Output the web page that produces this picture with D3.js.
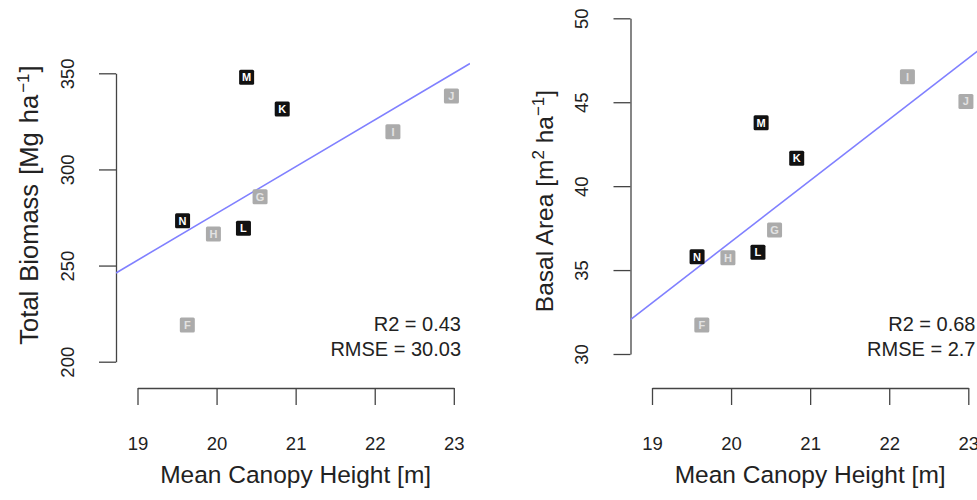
<!DOCTYPE html>
<html>
<head>
<meta charset="utf-8">
<script src="https://cdn.jsdelivr.net/npm/d3@7/dist/d3.min.js"></script>
<style>
  html, body { margin: 0; padding: 0; background: #fff; }
  svg { display: block; font-family: "Liberation Sans", Arial, Helvetica, sans-serif; }
</style>
</head>
<body>
<svg id="chart" width="977" height="500"></svg>
<script>
// Plot identifiers and measured stand attributes
const plotIds   = ["F", "G", "H", "I", "J", "K", "L", "M", "N"];
const canopyHeight = [19.63, 20.55, 19.96, 22.23, 22.97, 20.83, 20.34, 20.38, 19.57];
const totalBiomass = [219.1, 285.8, 266.4, 319.6, 338.2, 331.4, 269.4, 347.9, 273.3];
const basalArea    = [31.73, 37.39, 35.74, 46.52, 45.04, 41.66, 36.06, 43.78, 35.80];
const standType    = ["grey", "grey", "grey", "grey", "grey", "dark", "dark", "dark", "dark"];

// Axis ticks
const xTicks = [19, 20, 21, 22, 23];
const biomassTicks = [200, 250, 300, 350];
const basalTicks = [30, 35, 40, 45, 50];

// Fit statistics shown on each panel
const biomassStats = ["R2 = 0.43", "RMSE = 30.03"];
const basalStats   = ["R2 = 0.68", "RMSE = 2.7"];

const svg = d3.select("#chart");

// Ordinary least squares fit of y on x
function linearFit(xs, ys) {
  const mx = d3.mean(xs), my = d3.mean(ys);
  let sxy = 0, sxx = 0;
  xs.forEach((x, i) => { sxy += (x - mx) * (ys[i] - my); sxx += (x - mx) * (x - mx); });
  const slope = sxy / sxx;
  return { slope, intercept: my - slope * mx };
}

function drawPanel(cfg) {
  const g = svg.append("g");
  const x = d3.scaleLinear().domain([19, 23]).range([cfg.x0 + 21.5, cfg.x0 + 337.8]);
  const y = d3.scaleLinear().domain(cfg.yDomain).range(cfg.yRange);

  const clipId = "clip-" + cfg.key;
  svg.append("clipPath").attr("id", clipId)
    .append("rect")
    .attr("x", cfg.x0).attr("y", 0)
    .attr("width", 354).attr("height", 388);

  // y axis (left edge of plotting region)
  const yAxis = g.append("g")
    .attr("transform", `translate(${cfg.x0},0)`)
    .call(d3.axisLeft(y).tickValues(cfg.yTicks).tickSize(17).tickSizeOuter(0).tickFormat(d3.format("d")));
  yAxis.selectAll("path, line").attr("stroke", "#444").attr("stroke-width", 1.3);
  yAxis.selectAll("text")
    .attr("transform", "rotate(-90)")
    .attr("x", 0).attr("y", -42.5).attr("dy", null)
    .attr("text-anchor", "middle")
    .attr("fill", "#222")
    .style("font-size", "18.5px");

  // x axis below the plotting region
  const xAxis = g.append("g")
    .attr("transform", "translate(0,388)")
    .call(d3.axisBottom(x).tickValues(xTicks).tickSize(17).tickSizeOuter(0).tickFormat(d3.format("d")));
  xAxis.selectAll("path, line").attr("stroke", "#444").attr("stroke-width", 1.3);
  xAxis.selectAll("text")
    .attr("y", 61.5).attr("dy", null)
    .attr("fill", "#222")
    .style("font-size", "18.5px");

  // axis titles
  g.append("text")
    .attr("x", x(21)).attr("y", 483)
    .attr("text-anchor", "middle")
    .attr("fill", "#222")
    .style("font-size", "24.5px")
    .text("Mean Canopy Height [m]");

  const yt = g.append("text")
    .attr("transform", `translate(${cfg.x0 - 78},${cfg.titleY}) rotate(-90)`)
    .attr("text-anchor", "middle")
    .attr("fill", "#222")
    .style("font-size", cfg.titleSize + "px")
    .style("word-spacing", cfg.wordSpacing + "px");
  cfg.yTitle.forEach(part => {
    const t = yt.append("tspan").text(part.t);
    if (part.dx) t.attr("dx", part.dx);
    if (part.sup) t.attr("baseline-shift", "super").style("font-size", "17px");
  });

  // regression line
  const fit = linearFit(canopyHeight, cfg.values);
  const xa = x.invert(cfg.x0), xb = x.invert(cfg.x0 + 354);
  g.append("line")
    .attr("clip-path", `url(#${clipId})`)
    .attr("x1", x(xa)).attr("y1", y(fit.intercept + fit.slope * xa))
    .attr("x2", x(xb)).attr("y2", y(fit.intercept + fit.slope * xb))
    .attr("stroke", "#8080ff").attr("stroke-width", 1.6);

  // labelled plot markers
  const pts = g.selectAll("g.pt").data(plotIds).join("g")
    .attr("class", "pt")
    .attr("transform", (d, i) => `translate(${x(canopyHeight[i])},${y(cfg.values[i])})`);
  pts.append("rect")
    .attr("x", -7.5).attr("y", -7.5).attr("width", 15).attr("height", 15).attr("rx", 1.5)
    .attr("fill", (d, i) => standType[i] === "dark" ? "#111" : "#ababab");
  pts.append("text")
    .attr("text-anchor", "middle").attr("y", 3.9)
    .style("font-size", "11px").style("font-weight", "bold")
    .attr("fill", (d, i) => standType[i] === "dark" ? "#fff" : "#e2e2e2")
    .text(d => d);

  // fit statistics
  cfg.stats.forEach((s, i) => {
    g.append("text")
      .attr("x", cfg.x0 + 345).attr("y", 330.7 + i * 25)
      .attr("text-anchor", "end")
      .attr("fill", "#222")
      .style("font-size", "20px")
      .text(s);
  });
}

drawPanel({
  key: "biomass", x0: 116,
  yDomain: [200, 350], yRange: [361.7, 73.3], yTicks: biomassTicks,
  values: totalBiomass, stats: biomassStats, titleY: 205, titleSize: 25.5, wordSpacing: 2,
  yTitle: [{ t: "Total Biomass [Mg ha" }, { t: "\u22121", sup: true, dx: 2 }, { t: "]", dx: 1 }]
});

drawPanel({
  key: "basal", x0: 630.5,
  yDomain: [30, 50], yRange: [354, 18.3], yTicks: basalTicks,
  values: basalArea, stats: basalStats, titleY: 201, titleSize: 24.5, wordSpacing: 0,
  yTitle: [{ t: "Basal Area [m" }, { t: "2", sup: true }, { t: " ha" }, { t: "\u22121", sup: true }, { t: "]" }]
});
</script>
</body>
</html>
